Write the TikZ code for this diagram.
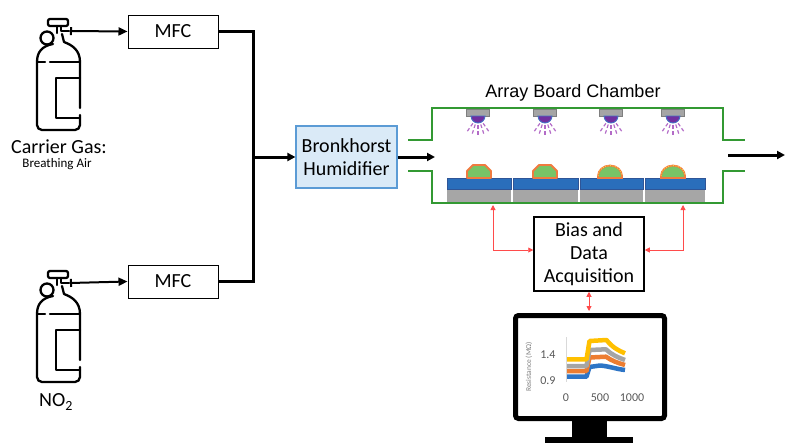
\documentclass[tikz,border=0pt]{standalone}
\usepackage{fontspec}
\setmainfont{Carlito}
\newfontfamily\titlefont{Liberation Sans}
\usetikzlibrary{arrows.meta}

\definecolor{chamgreen}{HTML}{339933}
\definecolor{humfill}{HTML}{DAEAF7}
\definecolor{humdraw}{HTML}{5B9BD5}
\definecolor{tileblue}{HTML}{2A6EBB}
\definecolor{tileblued}{HTML}{2F5597}
\definecolor{tilegray}{HTML}{A6A6A6}
\definecolor{bumpgreen}{HTML}{78C466}
\definecolor{bumporange}{HTML}{F07B3F}
\definecolor{bumpyellow}{HTML}{FFD23F}
\definecolor{ledpurple}{HTML}{7030A0}
\definecolor{ledblue}{HTML}{4472C4}
\definecolor{raypurple}{HTML}{B36BC7}
\definecolor{ledgray}{HTML}{A5A5A5}
\definecolor{ledgrayd}{HTML}{7F7F7F}
\definecolor{sigred}{HTML}{FF4B4B}
\definecolor{cyellow}{HTML}{FFC000}
\definecolor{cgray}{HTML}{A5A5A5}
\definecolor{corange}{HTML}{ED7D31}
\definecolor{cblue}{HTML}{2E75C6}
\definecolor{axisgray}{HTML}{D9D9D9}
\definecolor{labelgray}{HTML}{595959}

\tikzset{
  flow/.style={line width=3pt, black},
  flowarrow/.style={flow, -{Triangle[length=8pt,width=8pt]}},
  feed/.style={line width=2pt, black, {Bar[width=8pt]}-{Triangle[length=9pt,width=8pt]}},
  boxnode/.style={draw, line width=1pt, inner sep=0pt, align=center,
    font=\fontsize{20}{23}\selectfont},
  chamber/.style={draw=chamgreen, line width=2.8pt, line join=miter},
  sig/.style={draw=sigred, line width=0.9pt,
    {Triangle[length=5pt,width=5pt]}-{Triangle[length=5pt,width=5pt]}},
  bigtext/.style={font=\fontsize{20}{24}\selectfont},
  curve/.style={line width=4.5pt, line join=round},
  ticklabel/.style={text=labelgray, font=\fontsize{12}{14}\selectfont},
  pics/gascyl/.style={code={
    \begin{scope}[line width=2.3pt, line cap=round, line join=round]
      % valve cap and stem
      \draw[rounded corners=2pt] (48,19) rectangle (68,26);
      \draw (57,26) -- (57,33);
      \draw (61,26) -- (61,31) -- (69,31);
      % pressure gauge
      \draw (47,38) circle[radius=6.5];
      % body outline with its gaps
      \draw (53,44) .. controls (42,46) and (37,52) .. (37,62)
            [rounded corners=5pt] -- (37,130) -- (80,130) -- (80,115);
      \draw (80,108) -- (80,62) .. controls (80,50) and (72,45) .. (64,42) -- (62,34);
      % band and inner bracket
      \draw (38,62) -- (45,62);
      \draw (50,62) -- (80,62);
      \draw (80,78) -- (56,78) -- (56,118) -- (80,118);
    \end{scope}
  }}
}

\begin{document}
\begin{tikzpicture}[x=1pt, y=-1pt]
\useasboundingbox (0,0) rectangle (786,442);

% ---------- gas supplies ----------
\pic at (0,0) {gascyl};
\pic at (0,252) {gascyl};
\node[bigtext] (carrier) at (59,147) {Carrier Gas:};
\node[font=\fontsize{13}{15}\selectfont] (air) at (57,164) {Breathing Air};
\node[bigtext] (no2) at (56,402) {NO\textsubscript{2}};

\coordinate (valve1) at (70,31);
\coordinate (valve2) at (70,283);

% ---------- mass flow controllers ----------
\node[boxnode, minimum width=90pt, minimum height=33pt] (mfc1) at (173,31.5) {MFC};
\node[boxnode, minimum width=90pt, minimum height=33pt] (mfc2) at (173,281.5) {MFC};

\draw[feed] (valve1) -- (mfc1.west);
\draw[feed] (valve2) -- (mfc2.west);

% ---------- humidifier ----------
\node[boxnode, draw=humdraw, fill=humfill, line width=1.2pt,
      minimum width=101pt, minimum height=62pt] (hum) at (346.5,157) {Bronkhorst\\Humidifier};

\coordinate (junc) at (253,157);
\draw[flow] (mfc1.east) -| (junc) |- (mfc2.east);
\draw[flowarrow] (junc) -- (hum.west);

% ---------- chamber ----------
\node[font=\titlefont\fontsize{18}{20}\selectfont] (title) at (573,93) {Array Board Chamber};

% substrate tiles
\foreach \a/\b in {447/511, 513/578, 580/643, 645/705}{
  \fill[tilegray] (\a,189) rectangle (\b,203);
  \draw[tileblued, fill=tileblue, line width=0.5pt] (\a,178) rectangle (\b,189);
}
% sensing films
\foreach \cx in {479,545}{
  \draw[fill=bumpgreen, draw=bumporange, line width=1.8pt, line join=round]
    (\cx-12,178) -- (\cx-12,171) -- (\cx-6,165) -- (\cx+6,165) -- (\cx+12,171) -- (\cx+12,178) -- cycle;
}
\foreach \cx in {610,673}{
  \draw[fill=bumpgreen, draw=bumporange, line width=1.8pt]
    (\cx-12,178) -- (\cx-12,176) arc[start angle=180, end angle=360, x radius=12, y radius=10.5] -- (\cx+12,178) -- cycle;
  \draw[bumpyellow, line width=0.9pt, dash pattern=on 1pt off 1.5pt]
    (\cx-12,176) arc[start angle=180, end angle=360, x radius=12, y radius=10.5];
}
% light sources
\foreach \cx in {478,545,611,673}{
  \draw[fill=ledgray, draw=ledgrayd, line width=0.5pt] (\cx-11.5,109) rectangle (\cx+11.5,116);
  \draw[fill=ledpurple, draw=ledblue, line width=0.9pt]
    (\cx-7,116) arc[start angle=180, end angle=0, radius=7] -- cycle;
  \foreach \ang in {55,72,90,108,125}{
    \draw[raypurple, line width=1.2pt, dash pattern=on 3.5pt off 2.5pt, shift={(\cx,116)}]
      (\ang:9) -- (\ang:20);
  }
}
% walls
\draw[chamber] (408,140) -- (432,140) -- (432,108) -- (723,108) -- (723,140) -- (745,140);
\draw[chamber] (408,171) -- (432,171) -- (432,203) -- (723,203) -- (723,171) -- (745,171);

\coordinate (inlet) at (435,157);
\coordinate (outA) at (728,155);
\coordinate (outB) at (785,155);
\draw[flowarrow] (hum.east) -- (inlet);
\draw[flowarrow] (outA) -- (outB);

% ---------- acquisition ----------
\node[boxnode, line width=1.5pt, minimum width=110pt, minimum height=74pt] (bias) at (589,254)
  {Bias and\\Data\\Acquisition};

\coordinate (padL) at (493,205);
\coordinate (padR) at (683,205);
\draw[sig] (padL) |- ([yshift=4pt]bias.west);
\draw[sig] (padR) |- ([yshift=4pt]bias.east);

% ---------- monitor ----------
\coordinate (montop) at (589,311);
\draw[sig] (bias.south) -- (montop);

\fill[black] (572,419) rectangle (607,438);
\fill[black] (545,437) rectangle (633,446);
\draw[black, fill=white, line width=5pt, rounded corners=3pt] (515.5,315.5) rectangle (664.5,418.5);

% chart
\draw[axisgray, line width=0.8pt] (566,337) -- (566,382);
\draw[cblue, curve] (567,376.7) -- (586.5,376.7) -- (589.5,367) -- (600,365.5)
   .. controls (608,366) and (616,369) .. (625,370);
\draw[corange, curve] (567,371) -- (586.5,371) -- (589.5,357.5) -- (606,356.7)
   .. controls (612,361) and (618,363) .. (625,365);
\draw[cgray, curve] (567,366) -- (586.5,366) -- (589.5,350) -- (606,349.3)
   .. controls (612,355) and (618,357.5) .. (625,360);
\draw[cyellow, curve] (567,359.3) -- (586.5,359.3) -- (589.5,341) -- (606.5,340)
   .. controls (612,347) and (618,350.5) .. (625,353.3);

\node[ticklabel, anchor=east] (t14) at (559,355) {1.4};
\node[ticklabel, anchor=east] (t09) at (559,381) {0.9};
\node[ticklabel] (x0) at (566,398) {0};
\node[ticklabel] (x500) at (600,398) {500};
\node[ticklabel] (x1000) at (632,398) {1000};
\node[text=gray, font=\fontsize{7.5}{8}\selectfont, rotate=90] (ytitle) at (529,367) {Resistance (MΩ)};

\end{tikzpicture}
\end{document}
